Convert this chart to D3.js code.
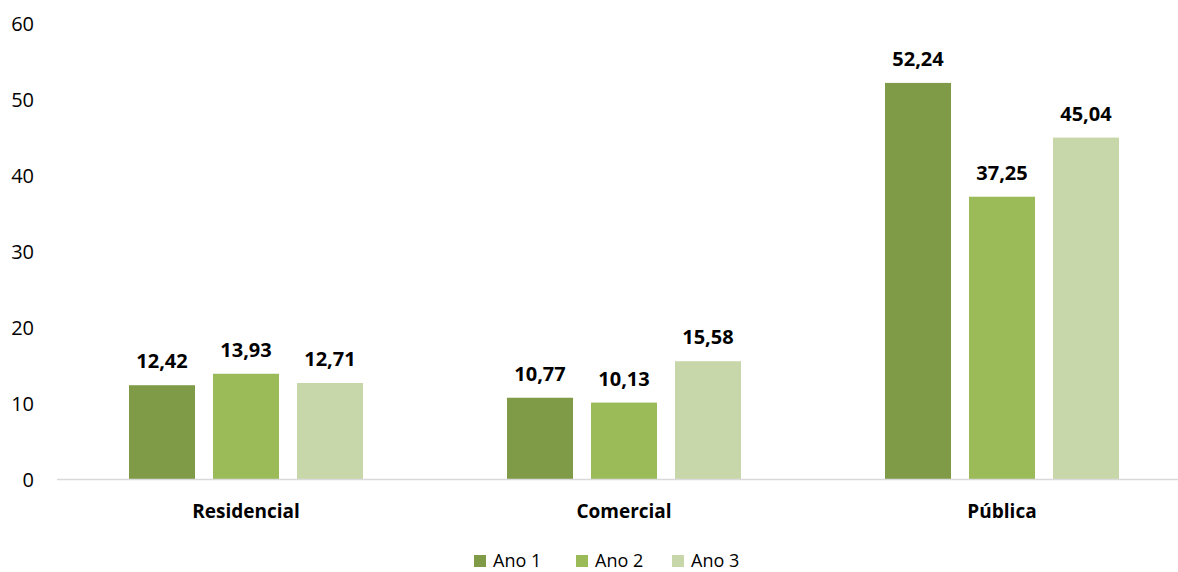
<!DOCTYPE html>
<html><head><meta charset="utf-8">
<script src="https://cdn.jsdelivr.net/npm/d3@7/dist/d3.min.js"></script>
<style>body{margin:0;background:#fff}svg{display:block}text{font-family:"Open Sans",sans-serif}</style>
</head><body><svg id="c" width="1178" height="572"></svg>
<script>
const categories = ["Residencial","Comercial","Pública"];
const seriesNames = ["Ano 1","Ano 2","Ano 3"];
const ano1 = [12.42, 10.77, 52.24];
const ano2 = [13.93, 10.13, 37.25];
const ano3 = [12.71, 15.58, 45.04];
const yTicks = [0,10,20,30,40,50,60];
const colors = ["#7f9b48","#9bbb59","#c7d7aa"];

const series = [ano1, ano2, ano3];
const svg = d3.select("#c");
const y = d3.scaleLinear().domain([0,60]).range([479.5,24]);
const x0 = d3.scaleBand().domain(categories).range([57,1191]).padding(0);
const x1 = d3.scaleBand().domain(seriesNames).range([72,306]).paddingInner(0.214).paddingOuter(0);
const fmt = v => v.toFixed(2).replace(".", ",");

// y axis labels
svg.append("g").selectAll("text").data(yTicks).join("text")
  .attr("x",34).attr("y",d=>y(d)).attr("dy","0.35em").attr("text-anchor","end")
  .attr("font-size",20).attr("fill","#000").text(d=>d);

// bars
const g = svg.append("g");
categories.forEach((c,ci)=>{
  series.forEach((s,si)=>{
    const bx = x0(c)+x1(seriesNames[si]);
    g.append("rect").attr("x",bx).attr("y",y(s[ci])).attr("width",x1.bandwidth())
      .attr("height",y(0)-y(s[ci])).attr("fill",colors[si]);
    g.append("text").attr("x",bx+x1.bandwidth()/2).attr("y",y(s[ci])-17)
      .attr("text-anchor","middle").attr("font-size",20).attr("font-weight","bold")
      .attr("fill","#000").text(fmt(s[ci]));
  });
});

// x axis line
svg.append("line").attr("x1",57).attr("x2",1178).attr("y1",479.5).attr("y2",479.5)
  .attr("stroke","#d9d9d9").attr("stroke-width",1.5);

// category labels
svg.append("g").selectAll("text").data(categories).join("text")
  .attr("x",d=>x0(d)+x0.bandwidth()/2).attr("y",517.5).attr("text-anchor","middle")
  .attr("font-size",19).attr("font-weight","bold").attr("fill","#000").text(d=>d);

// legend
const legX = [474, 576, 672];
const lg = svg.append("g");
seriesNames.forEach((n,i)=>{
  lg.append("rect").attr("x",legX[i]).attr("y",555).attr("width",12).attr("height",12).attr("fill",colors[i]);
  lg.append("text").attr("x",legX[i]+19).attr("y",561).attr("dy","0.35em").attr("font-size",18).attr("fill","#000").text(n);
});
</script></body></html>
